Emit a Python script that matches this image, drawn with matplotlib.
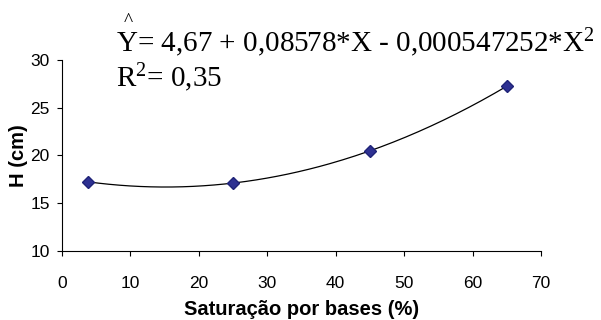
import numpy as np
import matplotlib
matplotlib.use("Agg")
import matplotlib.pyplot as plt

# values
saturacao = [3.75, 25, 45, 65]
altura = [17.25, 17.1, 20.5, 27.25]

x_ticks = [0, 10, 20, 30, 40, 50, 60, 70]
y_ticks = [10, 15, 20, 25, 30]

plt.rcParams['font.family'] = ['Liberation Sans', 'DejaVu Sans']
plt.rcParams['mathtext.fontset'] = 'custom'
plt.rcParams['mathtext.rm'] = 'Liberation Serif'
plt.rcParams['mathtext.it'] = 'Liberation Serif:italic'

fig = plt.figure(figsize=(6.01, 3.2), dpi=100)
ax = fig.add_axes([0.1032, 0.2156, 0.797, 0.597])

# quadratic trend line through the points
coef = np.polyfit(saturacao, altura, 2)
xs = np.linspace(min(saturacao), max(saturacao), 200)
ax.plot(xs, np.polyval(coef, xs), color='black', lw=0.9)
ax.plot(saturacao, altura, linestyle='none', marker='D', markersize=6.5,
        color='#2E3192', markeredgecolor='#1F2378')

ax.set_xlim(0, 70)
ax.set_ylim(10, 30)
ax.set_xticks(x_ticks)
ax.set_yticks(y_ticks)
ax.tick_params(labelsize=12.5, length=3.8, width=0.8, direction='out')
ax.tick_params(axis='x', pad=14)
ax.tick_params(axis='y', pad=5)
for s in ['top', 'right']:
    ax.spines[s].set_visible(False)
for s in ['left', 'bottom']:
    ax.spines[s].set_linewidth(0.8)

ax.set_xlabel('Saturação por bases (%)', fontsize=14.5, fontweight='bold', labelpad=7)
ax.set_ylabel('H (cm)', fontsize=14.5, fontweight='bold')
ax.yaxis.set_label_coords(-0.071, 0.5)

serif = {'family': 'Liberation Serif', 'size': 21}
fig.text(0.213, 0.918, '^', fontdict={'family': 'Liberation Serif', 'size': 14}, ha='center')
fig.text(0.193, 0.8375, r'Y= 4,67 + 0,08578*X - 0,000547252*X$^{2}$', fontdict=serif)
fig.text(0.193, 0.728, r'R$^{2}$= 0,35', fontdict=serif)

fig.savefig('out.png', dpi=100)
